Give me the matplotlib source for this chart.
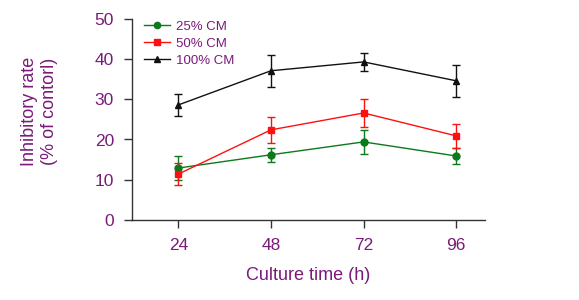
import matplotlib
matplotlib.use("Agg")
import matplotlib.pyplot as plt
from matplotlib.lines import Line2D

times = [24, 48, 72, 96]
cm25 = [12.9, 16.2, 19.4, 15.9]
cm25_err = [3.0, 1.7, 3.0, 2.0]
cm50 = [11.4, 22.4, 26.6, 20.9]
cm50_err = [2.7, 3.3, 3.5, 3.0]
cm100 = [28.6, 37.1, 39.3, 34.6]
cm100_err = [2.8, 4.0, 2.2, 4.0]
labels = ["25% CM", "50% CM", "100% CM"]

purple = "#7a1a7a"
plt.rcParams['font.family'] = ['Liberation Sans', 'DejaVu Sans']

fig = plt.figure(figsize=(5.79, 3.0), dpi=100)
ax = fig.add_axes([0.228, 0.267, 0.61, 0.67])

series = [(cm25, cm25_err, "#0a7a1a", "o", labels[0]),
          (cm50, cm50_err, "#ff1010", "s", labels[1]),
          (cm100, cm100_err, "#111111", "^", labels[2])]
handles = []
for vals, err, col, mk, lab in series:
    ax.errorbar(times, vals, yerr=err, color=col, marker=mk, markersize=5,
                linewidth=1.0, elinewidth=1.0, capsize=3, capthick=1.0)
    handles.append(Line2D([], [], color=col, marker=mk, markersize=4.5,
                          linewidth=1.0, label=lab))

ax.set_xlim(12, 103.5)
ax.set_ylim(0, 50)
ax.set_xticks(times)
ax.set_yticks([0, 10, 20, 30, 40, 50])
for s in ["top", "right"]:
    ax.spines[s].set_visible(False)
for s in ["left", "bottom"]:
    ax.spines[s].set_color("#333333")
    ax.spines[s].set_linewidth(1.0)
ax.tick_params(direction="out", length=6, width=1.0, colors="#333333",
               labelcolor=purple, labelsize=12.5, pad=7)
ax.set_xlabel("Culture time (h)", color=purple, fontsize=13, labelpad=10)
ax.set_ylabel("Inhibitory rate\n(% of contorl)", color=purple, fontsize=13)
ax.yaxis.set_label_coords(-0.21, 0.54)

leg = ax.legend(handles=handles, loc="upper left", bbox_to_anchor=(0.0, 1.05),
                frameon=False, fontsize=9.5, handlelength=2.0, labelspacing=0.35,
                handletextpad=0.4)
for t in leg.get_texts():
    t.set_color(purple)

fig.savefig("out.png", dpi=100, facecolor="white")
